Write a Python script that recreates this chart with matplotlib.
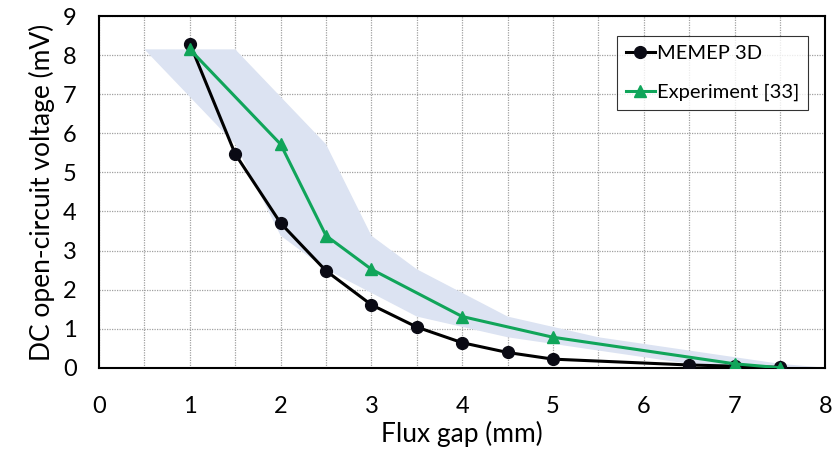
import matplotlib
matplotlib.use("Agg")
import matplotlib.pyplot as plt
import numpy as np
from matplotlib.patches import Polygon

plt.rcParams['font.family'] = ['Lato', 'DejaVu Sans']

# Data
memep_x = [1, 1.5, 2, 2.5, 3, 3.5, 4, 4.5, 5, 6.5, 7, 7.5]
memep_y = [8.30, 5.47, 3.70, 2.48, 1.61, 1.04, 0.64, 0.39, 0.22, 0.07, 0.04, 0.01]
exp_x = [1, 2, 2.5, 3, 4, 5, 7, 7.5]
exp_y = [8.15, 5.72, 3.38, 2.52, 1.31, 0.78, 0.10, 0.0]
gap_uncertainty = 0.5  # mm, horizontal uncertainty band of experiment

xticks = [0, 1, 2, 3, 4, 5, 6, 7, 8]
yticks = [0, 1, 2, 3, 4, 5, 6, 7, 8, 9]

fig = plt.figure(figsize=(8.35, 4.49), dpi=100)
ax = fig.add_axes([0.1186, 0.181, 0.870, 0.783])

# uncertainty band
ex = np.array(exp_x)
ey = np.array(exp_y)
upper = np.column_stack([ex + gap_uncertainty, ey])
lower = np.column_stack([ex - gap_uncertainty, ey])[::-1]
band = Polygon(np.vstack([upper, lower]), closed=True, facecolor='#dce3f2',
               edgecolor='none', zorder=1)
ax.add_patch(band)

ax.plot(memep_x, memep_y, color='black', lw=2.2, marker='o', markersize=8.5,
        markerfacecolor='#0a0a14', markeredgecolor='#0a0a14', label='MEMEP 3D', zorder=3)
ax.plot(exp_x, exp_y, color='#10a55a', lw=2.2, marker='^', markersize=9,
        markerfacecolor='#10a55a', markeredgecolor='#10a55a', label='Experiment [33]', zorder=4)

ax.set_xlim(0, 8)
ax.set_ylim(0, 9)
ax.set_xticks(xticks)
ax.set_yticks(yticks)
ax.set_xticks(np.arange(0.5, 8, 1.0), minor=True)
ax.tick_params(axis='both', which='both', length=0, labelsize=17)
ax.tick_params(axis='y', pad=16)
ax.tick_params(axis='x', pad=20)
ax.grid(True, which='major', color='#a0a0a0', linestyle=(0, (1, 1)), linewidth=0.9, zorder=0)
ax.grid(True, which='minor', axis='x', color='#a0a0a0', linestyle=(0, (1, 1)), linewidth=0.9, zorder=0)
ax.set_axisbelow(True)

for s in ax.spines.values():
    s.set_color('black')
    s.set_linewidth(1.5)

ax.set_xlabel('Flux gap (mm)', fontsize=19, labelpad=3)
ax.set_ylabel('DC open-circuit voltage (mV)', fontsize=19, labelpad=6)

leg = ax.legend(loc='upper right', bbox_to_anchor=(0.976, 0.945), fontsize=14.5,
                frameon=True, fancybox=False, handlelength=1.4, handletextpad=0.1,
                borderpad=0.45, labelspacing=1.1, borderaxespad=0)
leg.get_frame().set_edgecolor('black')
leg.get_frame().set_linewidth(0.8)

fig.savefig('out.png', dpi=100)
